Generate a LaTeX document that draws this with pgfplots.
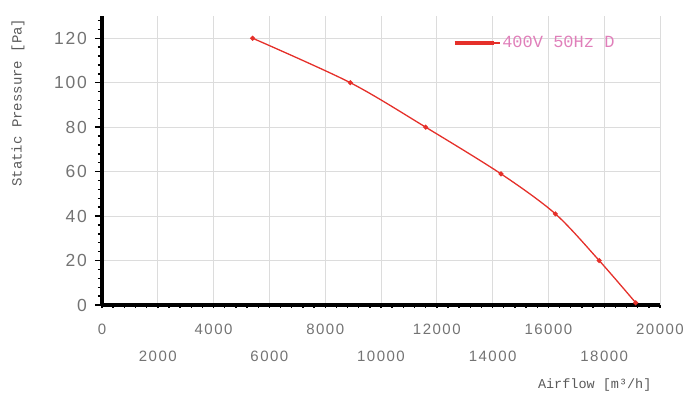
\documentclass[border=0pt]{standalone}
\usepackage{fontspec}
\usepackage{pgfplots}
\pgfplotsset{compat=1.18}
\setmainfont{Liberation Sans}
\newfontfamily\labelfont{Liberation Mono}
\newfontfamily\tickfont[LetterSpace=10]{Liberation Sans}
\definecolor{curvered}{HTML}{E5302A}
\definecolor{legendpink}{HTML}{E07FBA}
\definecolor{tickgray}{HTML}{737373}
\definecolor{labelgray}{HTML}{5A5A5A}
\definecolor{gridgray}{HTML}{DCDCDC}

\begin{document}
\begin{tikzpicture}
\path[use as bounding box] (-102pt,-95pt) rectangle (598pt,305pt);
\begin{axis}[
    scale only axis,
    width=558pt, height=289pt,
    xmin=0, xmax=20000, ymin=0, ymax=130,
    axis lines*=left,
    axis line style={line width=4pt, black},
    xtick={0,2000,...,20000},
    minor xtick={0,400,...,20000},
    ytick={0,20,...,120},
    minor ytick={0,4,...,128},
    tick align=outside,
    major tick length=7pt,
    minor tick length=4pt,
    x tick style={line width=1.4pt, black, /pgfplots/major tick length=3pt, /pgfplots/minor tick length=3pt},
    y tick style={line width=1.4pt, black},
    grid=major,
    major grid style={gridgray, line width=1pt},
    scaled x ticks=false,
    /pgf/number format/assume math mode=true,
    /pgf/number format/1000 sep={},
    xticklabel={\ifodd\ticknum\rule{0pt}{38pt}\else\rule{0pt}{11pt}\fi\pgfmathprintnumber{\tick}},
    x tick label style={font=\tickfont\fontsize{15}{18}\selectfont, text=tickgray, inner sep=2pt, yshift=-9pt},
    y tick label style={font=\tickfont\fontsize{17.5}{20}\selectfont, text=tickgray, inner sep=2pt, xshift=-6pt},
    xlabel={Airflow [m³/h]},
    ylabel={Static Pressure [Pa]},
    xlabel style={at={(axis description cs:0.991,-0.277)}, anchor=east,
        font=\labelfont\fontsize{13.5}{16}\selectfont, text=labelgray},
    ylabel style={at={(axis description cs:-0.1505,0.70)}, anchor=center,
        font=\labelfont\fontsize{14}{16}\selectfont, text=labelgray},
    legend style={at={(axis description cs:0.628,0.907)}, anchor=west,
        draw=none, fill=none, inner sep=0pt,
        font=\labelfont\fontsize{17}{20}\selectfont, text=legendpink},
    legend image code/.code={\draw[line width=4pt, curvered] (0pt,0pt) -- (39pt,0pt);
        \path (39pt,0pt) -- (45pt,0pt);},
    clip=false,
]
\addplot[curvered, line width=1.3pt, smooth, mark=*, mark size=1.8pt,
    mark options={fill=curvered, draw=curvered}] coordinates {
    (5400,120) (8900,100) (11600,80) (14300,59) (16250,41) (17820,20) (19130,1)
};
\addlegendentry{400V 50Hz D}
\end{axis}
\end{tikzpicture}
\end{document}
